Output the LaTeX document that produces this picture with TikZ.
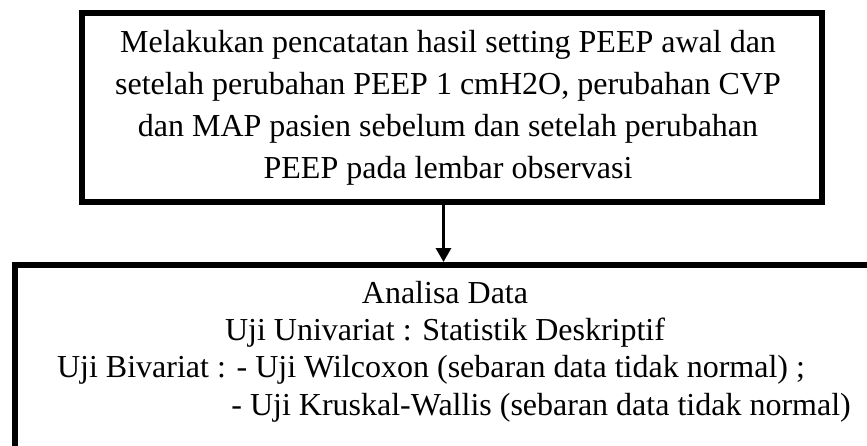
\documentclass[tikz,border=0pt]{standalone}
\usepackage{fontspec}
\setmainfont{Liberation Serif}
\usetikzlibrary{arrows.meta}
\begin{document}
\begin{tikzpicture}[x=1pt,y=-1pt,
  frame/.style={draw=black,line width=6pt,rectangle,inner sep=0pt,anchor=north west},
  txt/.style={inner sep=0pt,font=\fontsize{32}{38}\selectfont},
  flow/.style={draw=black,line width=3pt,-{Triangle[width=15pt,length=14pt]}}]
\useasboundingbox (0,0) rectangle (867,445);
% boxes
\node[frame,minimum width=740pt,minimum height=189pt] (top) at (79,10) {};
\node[frame,minimum width=863pt,minimum height=184pt] (bot) at (12,262) {};
% text of the upper box
\node[txt,anchor=base] (t1) at (448,52) {Melakukan pencatatan hasil setting PEEP awal dan};
\node[txt,anchor=base] (t2) at (448,94) {setelah perubahan PEEP 1 cmH2O, perubahan CVP};
\node[txt,anchor=base] (t3) at (448,136) {dan MAP pasien sebelum dan setelah perubahan};
\node[txt,anchor=base] (t4) at (448,178) {PEEP pada lembar observasi};
% text of the lower box
\node[txt,anchor=base] (b1) at (445,303) {Analisa Data};
\node[txt,anchor=base] (b2) at (445,340) {Uji Univariat : Statistik Deskriptif};
\node[txt,anchor=base] (b3) at (431,377) {Uji Bivariat : - Uji Wilcoxon (sebaran data tidak normal) ;};
\node[txt,anchor=base east] (b4) at (851,415) {- Uji Kruskal-Wallis (sebaran data tidak normal)};
% connector
\coordinate (ax) at (443.5,0);
\draw[flow] (top.south -| ax) -- (bot.north -| ax);
\end{tikzpicture}
\end{document}
